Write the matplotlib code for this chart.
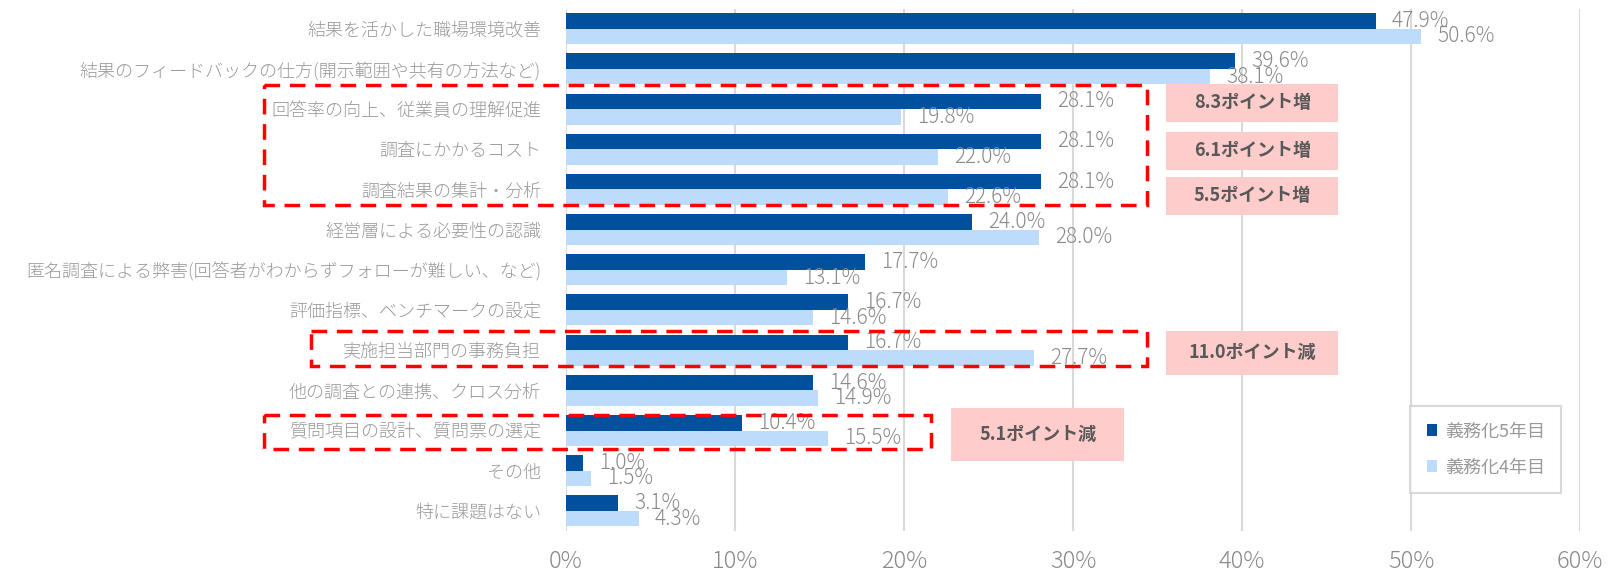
import matplotlib
matplotlib.use("Agg")
import matplotlib.pyplot as plt
from matplotlib.patches import Rectangle
import numpy as np

plt.rcParams['font.family'] = ['Noto Sans CJK JP', 'DejaVu Sans']

categories = [
    "結果を活かした職場環境改善",
    "結果のフィードバックの仕方(開示範囲や共有の方法など)",
    "回答率の向上、従業員の理解促進",
    "調査にかかるコスト",
    "調査結果の集計・分析",
    "経営層による必要性の認識",
    "匿名調査による弊害(回答者がわからずフォローが難しい、など)",
    "評価指標、ベンチマークの設定",
    "実施担当部門の事務負担",
    "他の調査との連携、クロス分析",
    "質問項目の設計、質問票の選定",
    "その他",
    "特に課題はない",
]
year5 = [47.9, 39.6, 28.1, 28.1, 28.1, 24.0, 17.7, 16.7, 16.7, 14.6, 10.4, 1.0, 3.1]
year4 = [50.6, 38.1, 19.8, 22.0, 22.6, 28.0, 13.1, 14.6, 27.7, 14.9, 15.5, 1.5, 4.3]
series_names = ["義務化5年目", "義務化4年目"]
x_ticks = [0, 10, 20, 30, 40, 50, 60]

# callouts: (text, x0, x1, y0, y1) in data units
callouts = [
    ("8.3ポイント増", 35.5, 45.7, 1.37, 2.32),
    ("6.1ポイント増", 35.5, 45.7, 2.56, 3.51),
    ("5.5ポイント増", 35.5, 45.7, 3.69, 4.63),
    ("11.0ポイント減", 35.5, 45.7, 7.52, 8.61),
    ("5.1ポイント減", 22.8, 33.0, 9.43, 10.75),
]
# dashed highlight frames: (x0, x1, y0, y1)
frames = [
    (-17.9, 34.4, 1.40, 4.39),
    (-15.1, 34.4, 7.52, 8.39),
    (-17.9, 21.6, 9.61, 10.46),
]

DARK = "#00509E"
LIGHT = "#BDDCFB"
GRID = "#D9D9D9"
TXT = "#8A8A8A"
CAT = "#999999"

fig = plt.figure(figsize=(16.1, 5.72), dpi=100)
ax = fig.add_axes([0.3516, 0.0717, 0.6298, 0.9133])

y = np.arange(len(categories))
h = 0.385
ax.barh(y - h / 2, year5, height=h, color=DARK, label=series_names[0], zorder=3)
ax.barh(y + h / 2, year4, height=h, color=LIGHT, label=series_names[1], zorder=3)

for yi, v in zip(y - h / 2, year5):
    ax.text(v + 0.95, yi, f"{v:.1f}%", va="center", ha="left",
            fontsize=15, fontweight="light", color=TXT, zorder=4)
for yi, v in zip(y + h / 2, year4):
    ax.text(v + 0.95, yi, f"{v:.1f}%", va="center", ha="left",
            fontsize=15, fontweight="light", color=TXT, zorder=4)

ax.set_ylim(len(categories) - 0.5, -0.5)
ax.set_yticks(y)
ax.set_yticklabels(categories, fontsize=13, color=CAT, fontweight="light")
ax.set_xlim(0, 60)
ax.set_xticks(x_ticks)
ax.set_xticklabels([f"{t}%" for t in x_ticks], fontsize=17, color=TXT,
                   fontweight="light")
ax.tick_params(axis="both", length=0)
ax.tick_params(axis="y", pad=18)
ax.tick_params(axis="x", pad=13)
for s in ax.spines.values():
    s.set_visible(False)
ax.grid(axis="x", color=GRID, linewidth=1.5, zorder=0)
ax.set_axisbelow(True)

for text, x0, x1, y0, y1 in callouts:
    ax.add_patch(Rectangle((x0, y0), x1 - x0, y1 - y0, facecolor="#FFCCCC",
                           edgecolor="none", clip_on=False, zorder=5))
    ax.text((x0 + x1) / 2, (y0 + y1) / 2, text, ha="center", va="center",
            fontsize=13, fontweight="bold", color="#595959", zorder=6)

for x0, x1, y0, y1 in frames:
    ax.add_patch(Rectangle((x0, y0), x1 - x0, y1 - y0, facecolor="none",
                           edgecolor="#FF0000", linewidth=2.5,
                           linestyle=(0, (4.5, 2.8)), clip_on=False, zorder=6))

leg = ax.legend(loc="upper right", bbox_to_anchor=(0.99, 0.2565), fontsize=13,
                frameon=True, fancybox=False, edgecolor="#D0D0D0",
                handlelength=0.6, handleheight=0.6, labelspacing=1.0,
                borderpad=0.9, handletextpad=0.4, labelcolor=CAT)
leg.get_frame().set_linewidth(1.5)

fig.savefig("out.png", dpi=100)
